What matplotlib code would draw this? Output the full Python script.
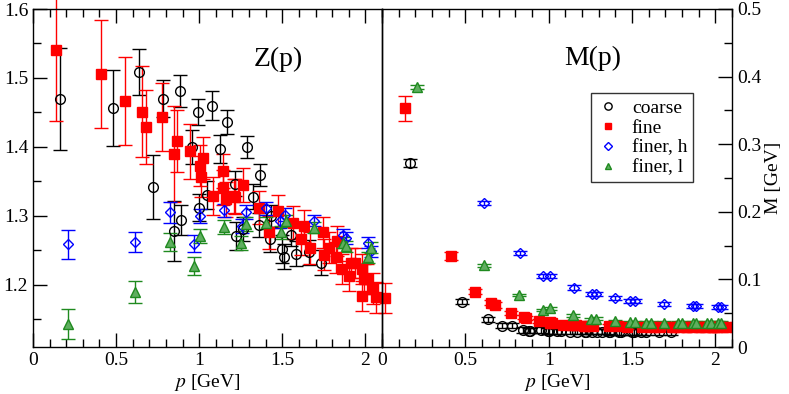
import numpy as np
import matplotlib
matplotlib.use("Agg")
import matplotlib.pyplot as plt
from matplotlib.lines import Line2D
from matplotlib.ticker import MultipleLocator, FormatStrFormatter

nan = np.nan

# coarse lattice (black circles)
p_coarse = [0.165, 0.48, 0.635, 0.72, 0.78, 0.848, 0.884, 0.89, 0.955, 0.994,
            1.0, 1.048, 1.076, 1.128, 1.17, 1.216, 1.222, 1.262, 1.288, 1.322,
            1.36, 1.366, 1.424, 1.432, 1.498, 1.512, 1.552, 1.582, 1.662, 1.732]
z_coarse = [1.470, 1.456, 1.509, 1.342, 1.470, 1.278, 1.481, 1.294, 1.400, 1.451,
            1.312, 1.330, 1.460, 1.397, 1.436, 1.347, 1.271, 1.281, 1.400, 1.328,
            1.287, 1.360, 1.266, 1.300, 1.252, 1.241, 1.273, 1.245, 1.247, 1.232]
z_coarse_err = [0.074, 0.055, 0.033, 0.046, 0.027, 0.043, 0.023, 0.022, 0.025, 0.019,
                0.020, 0.020, 0.021, 0.020, 0.017, 0.018, 0.020, 0.018, 0.016, 0.018,
                0.017, 0.016, 0.018, 0.016, 0.020, 0.018, 0.017, 0.018, 0.018, 0.018]
m_coarse = [0.272, 0.067, 0.041, 0.0315, 0.0315, 0.025, 0.024, 0.024, 0.025, 0.0237,
            0.0235, 0.023, 0.023, 0.0228, 0.0228, 0.0226, 0.0226, 0.0226, 0.0225, 0.0225,
            0.0225, 0.0224, 0.0224, 0.0224, 0.0223, 0.0223, 0.0223, 0.0222, 0.0222, 0.0222]
m_coarse_err = [0.006, 0.004, 0.004, 0.004, 0.004, 0.004, 0.004, 0.004, 0.004, 0.004,
                0.004, 0.004, 0.004, 0.004, 0.004, 0.004, 0.004, 0.004, 0.004, 0.004,
                0.004, 0.004, 0.004, 0.004, 0.004, 0.004, 0.004, 0.004, 0.004, 0.004]

# fine lattice (red squares)
p_fine = [0.138, 0.412, 0.556, 0.656, 0.678, 0.776, 0.85, 0.866, 0.944, 1.006,
          1.01, 1.022, 1.086, 1.142, 1.146, 1.162, 1.212, 1.218, 1.266, 1.362,
          1.418, 1.472, 1.562, 1.612, 1.632, 1.666, 1.742, 1.752, 1.782, 1.826,
          1.832, 1.862, 1.902, 1.912, 1.938, 1.978, 1.982, 1.992, 2.012, 2.046,
          2.062, 2.12]
z_fine = [1.540, 1.506, 1.467, 1.451, 1.429, 1.443, 1.390, 1.408, 1.394, 1.373,
          1.357, 1.384, 1.329, 1.365, 1.341, 1.324, 1.329, 1.328, 1.345, 1.312,
          1.276, 1.307, 1.290, 1.266, 1.285, 1.254, 1.276, 1.244, 1.254, 1.240,
          1.264, 1.223, 1.213, 1.232, 1.232, 1.223, 1.184, 1.209, 1.209, 1.195,
          1.182, 1.181]
z_fine_err = [0.103, 0.078, 0.064, 0.066, 0.053, 0.049, 0.070, 0.045, 0.040, 0.030,
              0.030, 0.030, 0.028, 0.025, 0.025, 0.025, 0.025, 0.025, 0.025, 0.024,
              0.024, 0.024, 0.024, 0.023, 0.023, 0.023, 0.023, 0.023, 0.022, 0.022,
              0.022, 0.022, 0.022, 0.022, 0.022, 0.022, 0.022, 0.022, 0.022, 0.022,
              0.022, 0.022]
m_fine = [0.353, 0.135, 0.082, 0.0655, 0.062, 0.050, 0.045, 0.0433, 0.0385, 0.0365,
          0.036, 0.036, 0.0325, 0.033, 0.0325, 0.032, 0.0315, 0.0315, 0.031, 0.0305,
          0.0305, 0.030, 0.030, 0.030, 0.030, 0.030, 0.0298, 0.0298, 0.0298, 0.0297,
          0.0297, 0.0297, 0.0296, 0.0296, 0.0296, 0.0295, 0.0295, 0.0295, 0.0295, 0.0294,
          0.0294, 0.0294]
m_fine_err = [0.019, 0.006, 0.004, 0.004, 0.004, 0.003, 0.003, 0.003, 0.003, 0.003,
              0.003, 0.003, 0.003, 0.003, 0.003, 0.003, 0.003, 0.003, 0.003, 0.003,
              0.003, 0.003, 0.003, 0.003, 0.003, 0.003, 0.003, 0.003, 0.003, 0.003,
              0.003, 0.003, 0.003, 0.003, 0.003, 0.003, 0.003, 0.003, 0.003, 0.003,
              0.003, 0.003]

# finer lattice, heavy quark mass (blue diamonds)
p_h = [0.208, 0.612, 0.825, 0.967, 1.006, 1.149, 1.257, 1.284, 1.40, 1.489,
       1.518, 1.69, 1.868, 1.884, 2.018, 2.032]
z_h = [1.259, 1.262, 1.305, 1.260, 1.300, 1.308, 1.285, 1.306, 1.311, 1.292,
       1.302, 1.293, 1.273, 1.268, 1.261, 1.249]
z_h_err = [0.021, 0.015, 0.015, 0.012, 0.010, 0.010, 0.010, 0.010, 0.009, 0.009,
           0.009, 0.008, 0.008, 0.008, 0.008, 0.008]
m_h = [nan, 0.213, 0.1395, 0.1055, 0.1055, 0.088, 0.078, 0.078, 0.072, 0.0685,
       0.0685, 0.0636, 0.061, 0.061, 0.0597, 0.0597]
m_h_err = [0.003, 0.003, 0.003, 0.003, 0.003, 0.003, 0.003, 0.003, 0.003, 0.003,
           0.003, 0.003, 0.003, 0.003, 0.003, 0.003]

# finer lattice, light quark mass (green triangles)
p_l = [0.208, 0.612, 0.822, 0.967, 1.006, 1.148, 1.253, 1.282, 1.40, 1.49,
       1.52, 1.586, 1.612, 1.69, 1.777, 1.80, 1.868, 1.884, 1.951, 1.971,
       2.018, 2.035]
z_l = [1.143, 1.190, 1.262, 1.227, 1.271, 1.284, 1.261, 1.288, 1.290, 1.276,
       1.293, nan, nan, 1.283, nan, nan, 1.261, 1.256, nan, nan,
       1.240, 1.254]
z_l_err = [0.022, 0.016, 0.013, 0.013, 0.010, 0.010, 0.010, 0.010, 0.009, 0.009,
           0.009, 0.009, 0.009, 0.008, 0.008, 0.008, 0.008, 0.008, 0.008, 0.008,
           0.008, 0.008]
m_l = [0.384, 0.121, 0.077, 0.0547, 0.057, 0.047, 0.041, 0.042, 0.0385, 0.0365,
       0.037, 0.036, 0.036, 0.036, 0.036, 0.036, 0.036, 0.036, 0.036, 0.036,
       0.036, 0.036]
m_l_err = [0.003, 0.002, 0.002, 0.002, 0.002, 0.002, 0.002, 0.002, 0.002, 0.002,
           0.002, 0.002, 0.002, 0.002, 0.002, 0.002, 0.002, 0.002, 0.002, 0.002,
           0.002, 0.002]

plt.rcParams['font.family'] = ['Liberation Serif', 'DejaVu Serif']
plt.rcParams['mathtext.fontset'] = 'stix'
plt.rcParams['font.size'] = 14

GREEN_E = '#1f8a1f'
GREEN_F = '#5fae5f'

styles = [
    dict(fmt='o', color='black', mfc='none', mec='black', ms=7, mew=1.0),
    dict(fmt='s', color='red', mfc='red', mec='red', ms=6.5, mew=1.0),
    dict(fmt='D', color='blue', mfc='none', mec='blue', ms=5, mew=1.0),
    dict(fmt='^', color=GREEN_E, mfc=GREEN_F, mec=GREEN_E, ms=6.5, mew=1.0),
]

fig = plt.figure(figsize=(7.89, 3.94), dpi=100)
ax1 = fig.add_axes([33 / 789, 47 / 394, 349 / 789, 338 / 394])
ax2 = fig.add_axes([382 / 789, 47 / 394, 350 / 789, 338 / 394])
ax2.patch.set_visible(False)

z_sets = [(p_coarse, z_coarse, z_coarse_err), (p_fine, z_fine, z_fine_err),
          (p_h, z_h, z_h_err), (p_l, z_l, z_l_err)]
m_sets = [(p_coarse, m_coarse, m_coarse_err), (p_fine, m_fine, m_fine_err),
          (p_h, m_h, m_h_err), (p_l, m_l, m_l_err)]

for (x, y, e), st in zip(z_sets, styles):
    c = ax1.errorbar(x, y, yerr=e, capsize=5, elinewidth=1, capthick=1, **st)
    for art in c.lines[0:1] + tuple(c.lines[1]) + tuple(c.lines[2]):
        art.set_clip_on(False)

for (x, y, e), st in zip(m_sets, styles):
    ax2.errorbar(x, y, yerr=e, capsize=5, elinewidth=1, capthick=1, **st)

ax1.set_xlim(0, 2.1)
ax1.set_ylim(1.11, 1.6)
ax2.set_xlim(0, 2.1)
ax2.set_ylim(0, 0.5)

for ax in (ax1, ax2):
    ax.xaxis.set_major_locator(MultipleLocator(0.5))
    ax.xaxis.set_minor_locator(MultipleLocator(0.1))
    ax.xaxis.set_major_formatter(FormatStrFormatter('%g'))
    ax.tick_params(which='major', direction='in', length=10, width=1, labelsize=14)
    ax.tick_params(which='minor', direction='in', length=5.5, width=1)
    ax.set_xlabel(r'$p$ [GeV]', fontsize=14, labelpad=2)
    for s in ax.spines.values():
        s.set_linewidth(1.0)

ax1.yaxis.set_major_locator(MultipleLocator(0.1))
ax1.yaxis.set_minor_locator(MultipleLocator(0.05))
ax1.yaxis.set_major_formatter(FormatStrFormatter('%.1f'))
ax1.tick_params(which='both', top=True, right=False, left=True)

ax2.yaxis.set_major_locator(MultipleLocator(0.1))
ax2.yaxis.set_minor_locator(MultipleLocator(0.05))
ax2.yaxis.set_major_formatter(FormatStrFormatter('%g'))
ax2.yaxis.tick_right()
ax2.yaxis.set_label_position('right')
ax2.tick_params(which='both', top=True, left=False, right=True)
ax2.set_ylabel('M [GeV]', fontsize=14, labelpad=3)

ax1.text(0.702, 0.85, 'Z(p)', transform=ax1.transAxes, fontsize=20,
         ha='center', va='center')
ax2.text(0.601, 0.855, 'M(p)', transform=ax2.transAxes, fontsize=20,
         ha='center', va='center')

names = ['coarse', 'fine', 'finer, h', 'finer, l']
handles = [Line2D([], [], linestyle='none', marker=st['fmt'], mfc=st['mfc'],
                  mec=st['mec'], ms=st['ms'] * 0.75, mew=1.0) for st in styles]
leg = ax2.legend(handles, names, loc='upper left', bbox_to_anchor=(0.597, 0.751),
                 borderaxespad=0, fontsize=14, frameon=True, fancybox=False,
                 edgecolor='black', handlelength=1.2, handletextpad=0.6,
                 labelspacing=0.12, borderpad=0.3)
leg.get_frame().set_linewidth(1.0)

fig.savefig('out.png', dpi=100)
